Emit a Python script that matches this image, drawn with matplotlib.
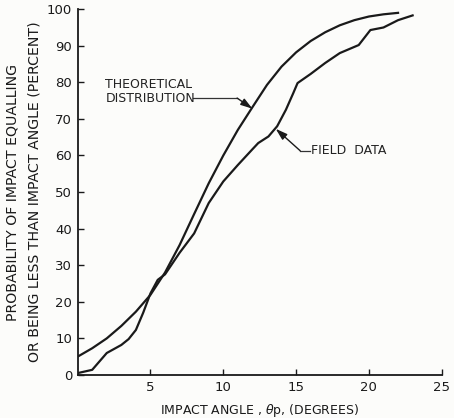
import matplotlib
matplotlib.use("Agg")
import matplotlib.pyplot as plt

# theoretical distribution
theo_x = [0, 1, 2, 3, 4, 5, 6, 7, 8, 9, 10, 11, 12, 13, 14, 15, 16, 17, 18, 19, 20, 21, 22]
theo_y = [5.0, 7.3, 10.0, 13.4, 17.3, 21.9, 28.0, 35.5, 44.0, 52.4, 60.0, 67.0, 73.2, 79.3, 84.3,
          88.2, 91.3, 93.7, 95.6, 97.0, 98.0, 98.6, 99.0]

# field data (piecewise, with kinks)
field_x = [0, 1, 2, 3, 3.5, 4, 4.5, 5, 5.5, 6, 7, 8, 9, 10, 11, 12, 12.4, 13.1, 13.7, 14.3,
           14.8, 15.1, 16, 17, 18, 19.3, 20.1, 21, 22, 23]
field_y = [0.5, 1.4, 6.0, 8.2, 9.8, 12.3, 17.0, 22.3, 26.0, 27.5, 33.4, 38.7, 47.0, 52.9, 57.4,
           61.7, 63.4, 65.2, 68.0, 72.5, 77.0, 79.8, 82.3, 85.3, 88.0, 90.2, 94.3, 95.0, 97.0, 98.3]

x_ticks = [5, 10, 15, 20, 25]
y_ticks = [0, 10, 20, 30, 40, 50, 60, 70, 80, 90, 100]

ink = "#1a1a1a"
fig = plt.figure(figsize=(4.54, 4.18), dpi=100, facecolor="#fcfcfa")
ax = fig.add_axes([0.171, 0.103, 0.802, 0.875])
ax.set_facecolor("#fcfcfa")

ax.plot(theo_x, theo_y, color=ink, lw=1.6)
ax.plot(field_x, field_y, color=ink, lw=1.6)

arrow_kw = dict(arrowstyle="-|>,head_width=0.22,head_length=0.7", color=ink, lw=1.0,
                mutation_scale=10, shrinkA=0, shrinkB=0)

# leader for theoretical curve
ax.plot([7.95, 10.95], [75.7, 75.7], color="#333333", lw=0.9)
ax.annotate("", xy=(12.0, 72.8), xytext=(10.95, 75.7), arrowprops=arrow_kw)
ax.text(1.9, 79.3, "THEORETICAL", fontsize=9, ha="left", va="center", color="#222222")
ax.text(1.9, 75.7, "DISTRIBUTION", fontsize=9, ha="left", va="center", color="#222222")

# leader for field data
ax.plot([15.28, 15.95], [61.3, 61.3], color="#333333", lw=0.9)
ax.annotate("", xy=(13.6, 67.3), xytext=(15.28, 61.3), arrowprops=arrow_kw)
ax.text(16.05, 61.3, "FIELD  DATA", fontsize=9, ha="left", va="center", color="#222222")

ax.set_xlim(0, 25)
ax.set_ylim(0, 100)
ax.set_xticks(x_ticks)
ax.set_yticks(y_ticks)
ax.tick_params(direction="in", length=4, width=1, labelsize=9.5, colors=ink, pad=4)
for s in ["top", "right"]:
    ax.spines[s].set_visible(False)
for s in ["left", "bottom"]:
    ax.spines[s].set_linewidth(1.3)
    ax.spines[s].set_color(ink)

ax.set_xlabel("IMPACT ANGLE , $\\theta$p, (DEGREES)", fontsize=9.0, labelpad=6, color=ink)
ax.set_ylabel("PROBABILITY OF IMPACT EQUALLING\nOR BEING LESS THAN IMPACT ANGLE (PERCENT)",
              fontsize=10.2, labelpad=4, linespacing=1.7, color=ink)

fig.savefig("out.png", dpi=100, facecolor=fig.get_facecolor())
